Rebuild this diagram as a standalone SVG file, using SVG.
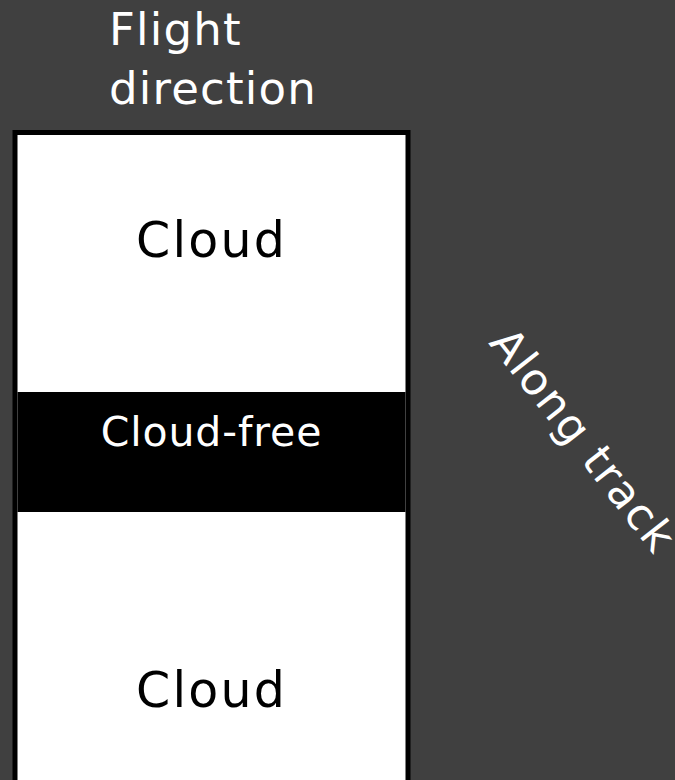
<svg xmlns="http://www.w3.org/2000/svg" width="675" height="780" viewBox="0 0 675 780">
  <style>
    .t { font-family: "DejaVu Sans", "Liberation Sans", sans-serif; }
    .w { fill: #ffffff; }
    .k { fill: #000000; }
  </style>
  <rect x="0" y="0" width="675" height="780" fill="#404040"/>
  <g id="flight-direction-label">
    <text class="t w" x="109" y="45" font-size="45" letter-spacing="1.2">Flight</text>
    <text class="t w" x="109" y="104" font-size="45" letter-spacing="1.2">direction</text>
  </g>
  <g id="strip">
    <rect x="15" y="132.5" width="393" height="700" fill="#ffffff" stroke="#000000" stroke-width="5"/>
  </g>
  <g id="cloud-top">
    <text class="t k" x="211.5" y="257" font-size="49" letter-spacing="2.2" text-anchor="middle">Cloud</text>
  </g>
  <g id="cloud-free">
    <rect x="17.5" y="392" width="388" height="120" fill="#000000"/>
    <text class="t w" x="211.5" y="446" font-size="41" letter-spacing="0.9" text-anchor="middle">Cloud-free</text>
  </g>
  <g id="cloud-bottom">
    <text class="t k" x="211.5" y="707" font-size="49" letter-spacing="2.2" text-anchor="middle">Cloud</text>
  </g>
  <g id="along-track-label">
    <text class="t w" x="0" y="0" font-size="44" letter-spacing="1.8" transform="translate(488,343) rotate(52)">Along track</text>
  </g>
  <g id="connectors"></g>
</svg>
